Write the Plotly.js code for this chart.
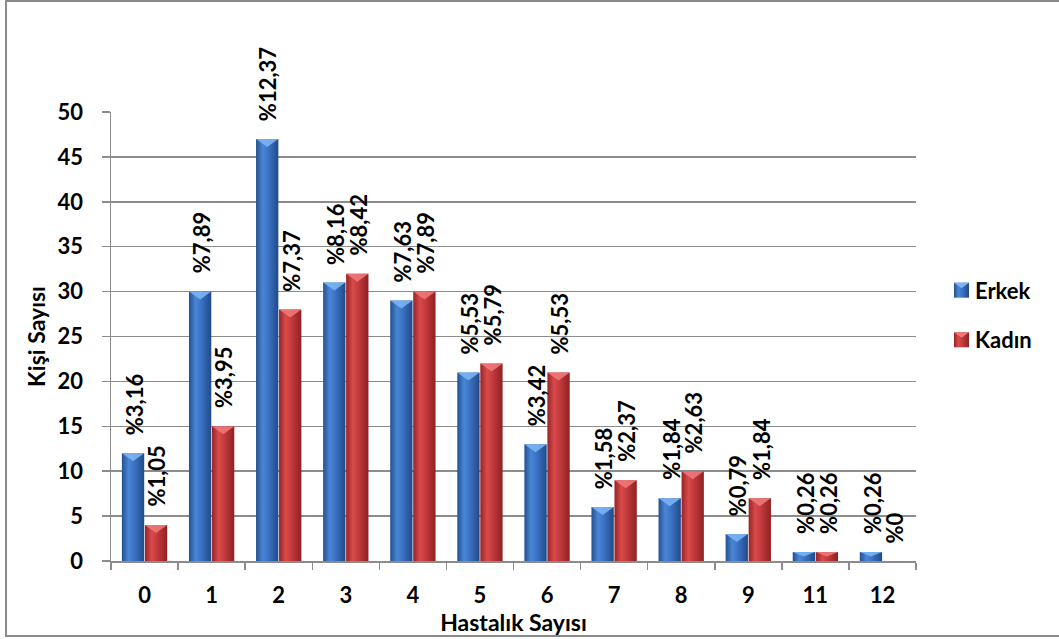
<!DOCTYPE html>
<html>
<head>
<meta charset="utf-8">
<script src="https://cdn.plot.ly/plotly-3.0.1.min.js"></script>
<style>
  html, body { margin: 0; padding: 0; background: #fff; }
  #chart { width: 1059px; height: 639px; }
</style>
</head>
<body>
<div id="chart"></div>
<script>
// Hastalık sayısına göre kişi sayısı (Erkek / Kadın)
const categories = ["0", "1", "2", "3", "4", "5", "6", "7", "8", "9", "11", "12"];
const erkek = [12, 30, 47, 31, 29, 21, 13, 6, 7, 3, 1, 1];
const kadin = [4, 15, 28, 32, 30, 22, 21, 9, 10, 7, 1, 0];
const erkekPct = [3.16, 7.89, 12.37, 8.16, 7.63, 5.53, 3.42, 1.58, 1.84, 0.79, 0.26, 0.26];
const kadinPct = [1.05, 3.95, 7.37, 8.42, 7.89, 5.79, 5.53, 2.37, 2.63, 1.84, 0.26, 0];
const yTicks = [0, 5, 10, 15, 20, 25, 30, 35, 40, 45, 50];

const FONT = "Lato, 'Noto Sans', sans-serif";
const GRID = "#8c8c8c";

function pctLabel(v) {
  return v === 0 ? "%0" : "%" + v.toFixed(2).replace(".", ",");
}

const traces = [
  {
    type: "bar", name: "Erkek", x: categories, y: erkek,
    marker: { color: "#3a70c0", line: { width: 0 } },
    legendgroup: "erkek", hoverinfo: "x+y"
  },
  {
    type: "bar", name: "Kadın", x: categories, y: kadin,
    marker: { color: "#c43a3c", line: { width: 0 } },
    legendgroup: "kadin", hoverinfo: "x+y"
  }
];

// rotated percentage labels above each bar (x given as category index)
const SLOT = 11.5;
const annotations = [];
function addLabels(vals, pcts, shift) {
  categories.forEach((c, i) => {
    annotations.push({
      x: i, y: vals[i], xref: "x", yref: "y",
      text: pctLabel(pcts[i]), showarrow: false, textangle: -90,
      xanchor: "center", yanchor: "bottom", xshift: shift, yshift: 16,
      font: { family: FONT, size: 22, color: "#000", weight: 700 }
    });
  });
}
addLabels(erkek, erkekPct, -SLOT + 1);
addLabels(kadin, kadinPct, SLOT + 1);

const layout = {
  width: 1059, height: 639,
  margin: { l: 111, r: 143, t: 112, b: 78 },
  paper_bgcolor: "#fff", plot_bgcolor: "#fff",
  barmode: "group", bargap: 0.314, bargroupgap: 0.03,
  font: { family: FONT, size: 22, color: "#000", weight: 700 },
  xaxis: {
    type: "category", categoryorder: "array", categoryarray: categories,
    range: [-0.5, categories.length - 0.5],
    tickson: "boundaries", ticks: "outside", ticklen: 7, tickwidth: 1.5, tickcolor: GRID,
    showline: true, linecolor: GRID, linewidth: 1.5, showgrid: false,
    tickfont: { family: FONT, size: 22, color: "#000", weight: 700 },
    ticklabelstandoff: 14,
    title: { text: "Hastalık Sayısı", standoff: 0, font: { family: FONT, size: 23, color: "#000", weight: 700 } },
    automargin: false
  },
  yaxis: {
    range: [0, 50], tickvals: yTicks, ticktext: yTicks.map(String),
    ticks: "outside", ticklen: 8, tickwidth: 1.5, tickcolor: GRID,
    showline: true, linecolor: GRID, linewidth: 1.5,
    showgrid: true, gridcolor: GRID, gridwidth: 1.5, zeroline: false,
    tickfont: { family: FONT, size: 22, color: "#000", weight: 700 },
    ticklabelstandoff: 14,
    title: { text: "Kişi Sayısı", standoff: 5, font: { family: FONT, size: 23, color: "#000", weight: 700 } },
    automargin: false
  },
  legend: {
    x: 1.0236, xanchor: "left", y: 0.547, yanchor: "middle",
    traceorder: "grouped", tracegroupgap: 18, itemwidth: 30,
    font: { family: FONT, size: 22, color: "#000", weight: 700 },
    bgcolor: "rgba(0,0,0,0)"
  },
  annotations: annotations,
  shapes: [{
    type: "rect", xref: "paper", yref: "paper",
    x0: -0.1304, x1: 1.3, y0: -0.167, y1: 1.2472,
    line: { color: "#8a8a8a", width: 2 }, fillcolor: "rgba(0,0,0,0)", layer: "below"
  }]
};

const SVGNS = "http://www.w3.org/2000/svg";
const SHADE_IDS = ["shadeErkek", "shadeKadin"];
const TOP_COLORS = ["#7ab4f2", "#ee7878"];

function makeGradient(defs, id, stops) {
  if (defs.querySelector("#" + id)) return;
  const g = document.createElementNS(SVGNS, "linearGradient");
  g.setAttribute("id", id);
  g.setAttribute("x1", "0"); g.setAttribute("x2", "1");
  g.setAttribute("y1", "0"); g.setAttribute("y2", "0");
  stops.forEach(([o, c]) => {
    const s = document.createElementNS(SVGNS, "stop");
    s.setAttribute("offset", o); s.setAttribute("stop-color", c);
    g.appendChild(s);
  });
  defs.appendChild(g);
}

// cylinder-like shading on bars and legend swatches
function shadeBars(gd) {
  const svg = gd.querySelector(".main-svg");
  let defs = svg.querySelector("defs");
  if (!defs) { defs = document.createElementNS(SVGNS, "defs"); svg.insertBefore(defs, svg.firstChild); }
  makeGradient(defs, "shadeErkek", [["0", "#24508f"], ["0.3", "#4a86d6"], ["0.55", "#3b73c4"], ["1", "#214a88"]]);
  makeGradient(defs, "shadeKadin", [["0", "#972325"], ["0.3", "#d84b4c"], ["0.55", "#c43a3c"], ["1", "#8e2224"]]);

  gd.querySelectorAll(".barlayer .trace.bars").forEach((tr, k) => {
    tr.querySelectorAll(".bevel").forEach(n => n.remove());
    tr.querySelectorAll(".point path").forEach(p => {
      p.style.fill = "url(#" + SHADE_IDS[k] + ")";
      const b = p.getBBox();
      if (b.height < 1) return;
      const h = Math.min(8, b.height * 0.5);
      const tri = document.createElementNS(SVGNS, "path");
      tri.setAttribute("class", "bevel");
      tri.setAttribute("d", "M" + b.x + "," + b.y + "H" + (b.x + b.width) + "L" + (b.x + b.width / 2) + "," + (b.y + h) + "Z");
      tri.setAttribute("fill", TOP_COLORS[k]);
      tri.setAttribute("opacity", "0.9");
      p.parentNode.appendChild(tri);
    });
  });

  // legend swatches: a shaded square just left of each legend label
  gd.querySelectorAll(".legend g.traces").forEach((tr, k) => {
    tr.querySelectorAll(".legendpoints").forEach(n => n.style.display = "none");
    tr.querySelectorAll(".swatch").forEach(n => n.remove());
    const txt = tr.querySelector(".legendtext");
    const tx = txt ? parseFloat(txt.getAttribute("x")) || 40 : 40;
    const sq = document.createElementNS(SVGNS, "rect");
    sq.setAttribute("class", "swatch");
    sq.setAttribute("x", tx - 21);
    sq.setAttribute("y", -7.5);
    sq.setAttribute("width", 15);
    sq.setAttribute("height", 15);
    sq.setAttribute("fill", "url(#" + SHADE_IDS[k % 2] + ")");
    tr.appendChild(sq);
    const tri = document.createElementNS(SVGNS, "path");
    tri.setAttribute("class", "swatch");
    tri.setAttribute("d", "M" + (tx - 21) + ",-7.5H" + (tx - 6) + "L" + (tx - 13.5) + ",-2Z");
    tri.setAttribute("fill", TOP_COLORS[k % 2]);
    tr.appendChild(tri);
  });
}

const gd = document.getElementById("chart");
Plotly.newPlot(gd, traces, layout, { displayModeBar: false, staticPlot: true })
  .then(() => {
    shadeBars(gd);
    gd.on("plotly_afterplot", () => shadeBars(gd));
  });
</script>
</body>
</html>
